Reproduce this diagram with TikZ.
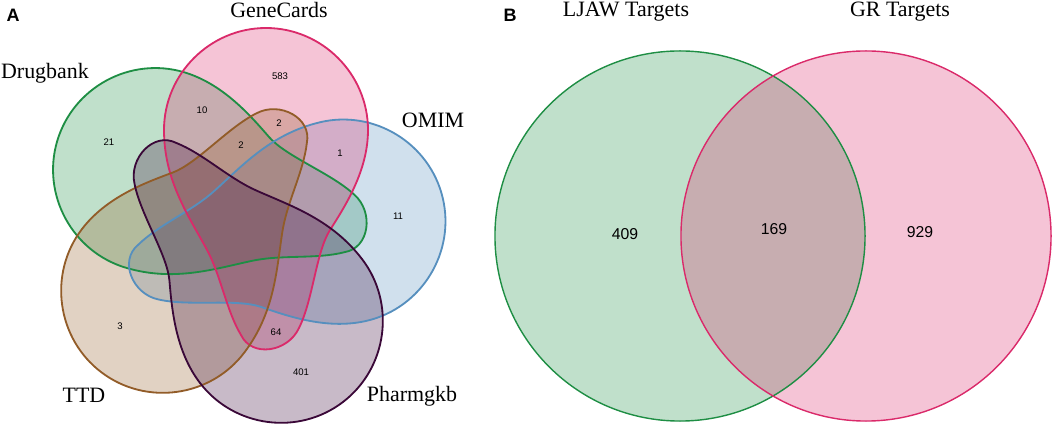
\documentclass[tikz,border=0pt]{standalone}
\usepackage{fontspec}
\setmainfont{Liberation Serif}
\setsansfont{Liberation Sans}

\definecolor{dbgreen}{RGB}{30,142,68}
\definecolor{gcpink}{RGB}{218,42,106}
\definecolor{omblue}{RGB}{86,143,190}
\definecolor{ttdbrown}{RGB}{146,92,40}
\definecolor{pgpurple}{RGB}{58,8,56}

% one petal of the five set diagram, centred on its round bulb
\newcommand{\petal}{(-102,0) .. controls (-102,-56) and (-56,-102) .. (0,-102)
    .. controls (56,-102) and (102,-56) .. (102,0)
    .. controls (102,40) and (80,75) .. (64,100)
    .. controls (50,122) and (47,170) .. (33,198)
    .. controls (22,222) and (-14,228) .. (-25,205)
    .. controls (-40,180) and (-45,145) .. (-60,118)
    .. controls (-78,85) and (-102,50) .. cycle}

\begin{document}
\begin{tikzpicture}[x=0.025cm, y=-0.025cm,
    setfill/.style={fill=#1, fill opacity=0.28},
    setline/.style={draw=#1, line width=1.3pt},
    setname/.style={inner sep=0pt, font=\fontsize{15.6}{18}\selectfont},
    count/.style={inner sep=0pt, font=\sffamily\fontsize{6.8}{8}\selectfont},
    bigcount/.style={inner sep=0pt, font=\sffamily\fontsize{11.2}{13}\selectfont},
    panel/.style={inner sep=0pt, font=\sffamily\bfseries\fontsize{12.8}{14}\selectfont}]
    \useasboundingbox (0,0) rectangle (1052,425);

    % Panel A: five sets
    \fill[setfill=dbgreen, shift={(155,170)}, rotate=-286.5] \petal;
    \fill[setfill=omblue, shift={(343.5,221.5)}, rotate=-76.6] \petal;
    \fill[setfill=gcpink, shift={(266,130)}] \petal;
    \fill[setfill=ttdbrown, shift={(163,291)}, rotate=-217.2] \petal;
    \fill[setfill=pgpurple, shift={(281,321)}, rotate=-142.6] \petal;

    \draw[setline=dbgreen, shift={(155,170)}, rotate=-286.5] \petal;
    \draw[setline=omblue, shift={(343.5,221.5)}, rotate=-76.6] \petal;
    \draw[setline=gcpink, shift={(266,130)}] \petal;
    \draw[setline=ttdbrown, shift={(163,291)}, rotate=-217.2] \petal;
    \draw[setline=pgpurple, shift={(281,321)}, rotate=-142.6] \petal;

    \node[panel] (pa) at (13,15) {A};
    \node[setname] (genecards) at (279,10) {GeneCards};
    \node[setname] (drugbank) at (45,73) {Drugbank};
    \node[setname] (omim) at (433,120) {OMIM};
    \node[setname] (ttd) at (84,395) {TTD};
    \node[setname] (pharmgkb) at (412,396) {Pharmgkb};

    % counts
    \node[count] (n583) at (280,76) {583};
    \node[count] (n10) at (202,110) {10};
    \node[count] (n21) at (109,142) {21};
    \node[count] (n2a) at (279,123) {2};
    \node[count] (n2b) at (241,145) {2};
    \node[count] (n1) at (340,153) {1};
    \node[count] (n11) at (398,216) {11};
    \node[count] (n3) at (120,326) {3};
    \node[count] (n64) at (276,332) {64};
    \node[count] (n401) at (301,372) {401};

    % Panel B: two sets
    \fill[setfill=dbgreen] (680,236) circle[radius=4.625cm];
    \fill[setfill=gcpink] (866,236) circle[radius=4.625cm];
    \draw[draw=dbgreen, line width=1pt] (680,236) circle[radius=4.625cm];
    \draw[draw=gcpink, line width=1pt] (866,236) circle[radius=4.625cm];

    \node[panel] (pb) at (510,15) {B};
    \node[setname] (ljaw) at (626,12) {LJAW Targets};
    \node[setname] (gr) at (900,12) {GR Targets};
    \node[bigcount] (n409) at (625,234) {409};
    \node[bigcount] (n169) at (774,229) {169};
    \node[bigcount] (n929) at (920,232) {929};
\end{tikzpicture}
\end{document}
